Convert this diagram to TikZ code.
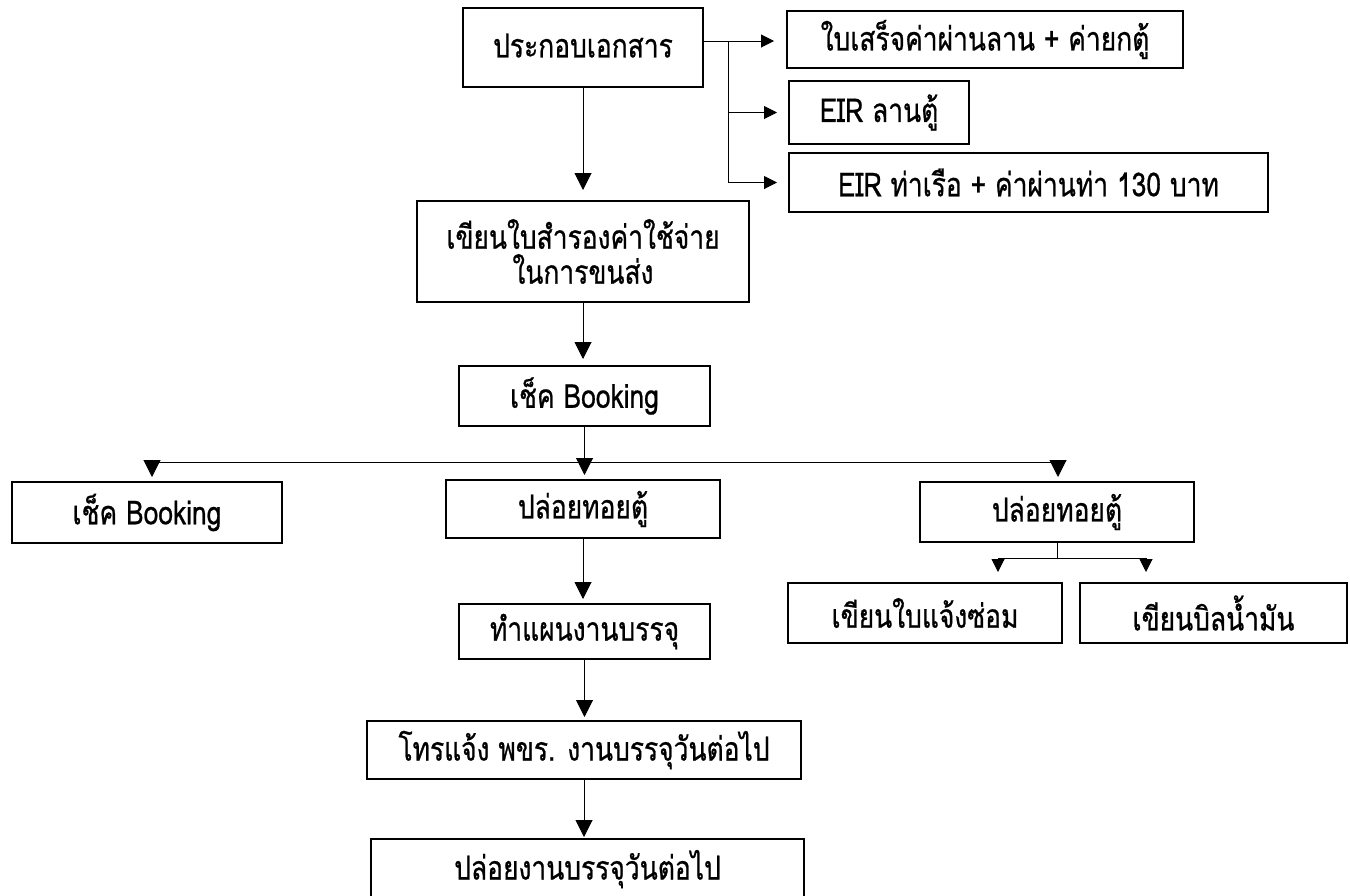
\documentclass[tikz,border=0pt]{standalone}
\usepackage{fontspec}
\setmainfont[Script=Thai,FakeStretch=0.8,FakeBold=0.7]{Loma}
\usetikzlibrary{arrows.meta}
\begin{document}
\begin{tikzpicture}[x=0.5pt,y=-0.5pt,
 box/.style={draw, line width=1pt, inner sep=0pt, align=center, font=\fontsize{16.5}{17.5}\selectfont},
 arr/.style={-{Triangle[width=8.5pt,length=8.5pt]}, line width=0.5pt},
 arrs/.style={-{Triangle[width=6.5pt,length=6.5pt]}, line width=0.5pt},
 ln/.style={line width=0.5pt}]
\useasboundingbox (0,0) rectangle (1350,895);
\clip (0,0) rectangle (1350,895);
\fill[white] (0,0) rectangle (1350,895);
% boxes
\node[box, minimum width=120pt, minimum height=39.5pt] (b1) at (583,47.5) {\raisebox{2pt}{ประกอบเอกสาร}};
\node[box, minimum width=198pt, minimum height=28.5pt] (r1) at (985,39.5) {ใบเสร็จค่าผ่านลาน + ค่ายกตู้};
\node[box, minimum width=90pt, minimum height=31.5pt] (r2) at (879,112.5) {EIR ลานตู้};
\node[box, minimum width=239.5pt, minimum height=29.5pt] (r3) at (1028.5,182.5) {EIR ท่าเรือ + ค่าผ่านท่า 130 บาท};
\node[box, minimum width=166pt, minimum height=50.5pt] (b2) at (583,251.5) {เขียนใบสำรองค่าใช้จ่าย\\ในการขนส่ง};
\node[box, minimum width=125.5pt, minimum height=30pt] (b3) at (584.5,396) {เช็ค Booking};
\node[box, minimum width=135pt, minimum height=30.5pt] (L) at (147,512.5) {เช็ค Booking};
\node[box, minimum width=137pt, minimum height=29pt] (M) at (583,509) {ปล่อยทอยตู้};
\node[box, minimum width=137pt, minimum height=30pt] (R) at (1057,512) {ปล่อยทอยตู้};
\node[box, minimum width=137pt, minimum height=30pt] (B1) at (925,613) {เขียนใบแจ้งซ่อม};
\node[box, minimum width=133.5pt, minimum height=30pt] (B2) at (1213.5,613) {เขียนบิลน้ำมัน};
\node[box, minimum width=125.5pt, minimum height=27.5pt] (P1) at (584.5,631.5) {ทำแผนงานบรรจุ};
\node[box, minimum width=217pt, minimum height=29pt] (P2) at (584,750) {โทรแจ้ง พขร. งานบรรจุวันต่อไป};
\node[box, minimum width=216.5pt, minimum height=30pt] (P3) at (587.5,869) {ปล่อยงานบรรจุวันต่อไป};
% top-right branch
\coordinate (j1) at (728,41);
\draw[ln] (b1.east |- j1) -- (j1);
\draw[arrs, shorten >=6pt] (j1) -- (r1.west |- j1);
\draw[ln] (j1) -- (j1 |- r3.west);
\draw[arrs, shorten >=5.5pt] (j1 |- r2.west) -- (r2.west);
\draw[arrs, shorten >=5.5pt] (j1 |- r3.west) -- (r3.west);
% main column
\draw[arr, shorten >=5pt] (b1.south) -- (b1.south |- b2.north);
\draw[arr, shorten >=3pt] (b2.south) -- (b2.south |- b3.north);
% three-way split
\coordinate (hL) at (152,462);
\coordinate (hR) at (1058,462);
\draw[ln] (b3.south) -- (b3.south |- hL);
\draw[ln] (hL) -- (hR);
\draw[arr, shorten >=2pt] (hL) -- (hL |- L.north);
\draw[arr, shorten >=2pt] (b3.south |- hL) -- (b3.south |- M.north);
\draw[arr, shorten >=2pt] (hR) -- (hR |- R.north);
% right small split
\coordinate (s1) at (998,558);
\coordinate (s2) at (1146,558);
\draw[ln] (R.south) -- (R.south |- s1);
\draw[ln] (s1) -- (s2);
\draw[arrs, shorten >=5pt] (s1) -- (s1 |- B1.north);
\draw[arrs, shorten >=5pt] (s2) -- (s2 |- B2.north);
% lower column
\draw[arr, shorten >=2pt] (M.south) -- (M.south |- P1.north);
\draw[arr, shorten >=1.5pt] (P1.south) -- (P1.south |- P2.north);
\draw[arr, shorten >=0.5pt] (P2.south) -- (P2.south |- P3.north);
\end{tikzpicture}
\end{document}
